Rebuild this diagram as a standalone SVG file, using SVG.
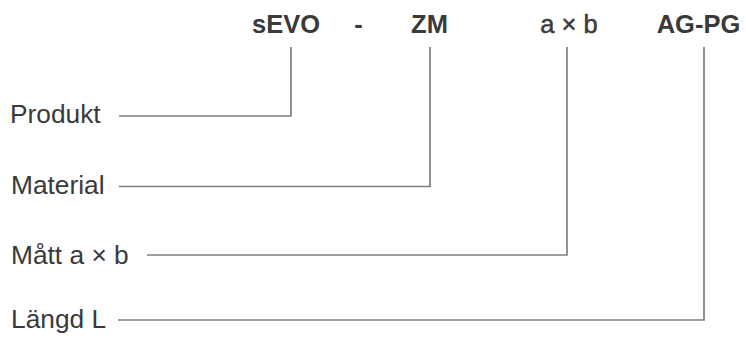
<svg xmlns="http://www.w3.org/2000/svg" width="746" height="338" viewBox="0 0 746 338">
<style>
.code{font-family:"Liberation Sans",Arial,sans-serif;font-weight:bold;font-size:25.5px;fill:#3a3a3a;text-anchor:middle}
.reg{font-weight:normal;stroke:#3a3a3a;stroke-width:0.5}
.lab{font-family:"Liberation Sans",Arial,sans-serif;font-size:26.3px;fill:#3a3a3a}
.con{fill:none;stroke:#7f7f7f;stroke-width:1.7}
</style>
<rect width="746" height="338" fill="#fff"/>
<g id="code-sevo"><text class="code" x="286" y="33">sEVO</text></g>
<g id="code-dash"><text class="code" x="358.5" y="33">-</text></g>
<g id="code-zm"><text class="code" x="429.5" y="33">ZM</text></g>
<g id="code-axb"><text class="code reg" x="569" y="33">a × b</text></g>
<g id="code-agpg"><text class="code" x="698.5" y="33">AG-PG</text></g>
<g id="label-produkt"><text class="lab" x="10" y="123">Produkt</text></g>
<g id="label-material"><text class="lab" x="11" y="193.5">Material</text></g>
<g id="label-matt"><text class="lab" x="11" y="264">Mått a × b</text></g>
<g id="label-langd"><text class="lab" x="11" y="328">Längd L</text></g>
<g id="connectors">
<path class="con" d="M119,116 H291 V47"/>
<path class="con" d="M119,186.5 H430 V47"/>
<path class="con" d="M147,255 H567 V47"/>
<path class="con" d="M118,320 H704 V47"/>
</g>
</svg>
